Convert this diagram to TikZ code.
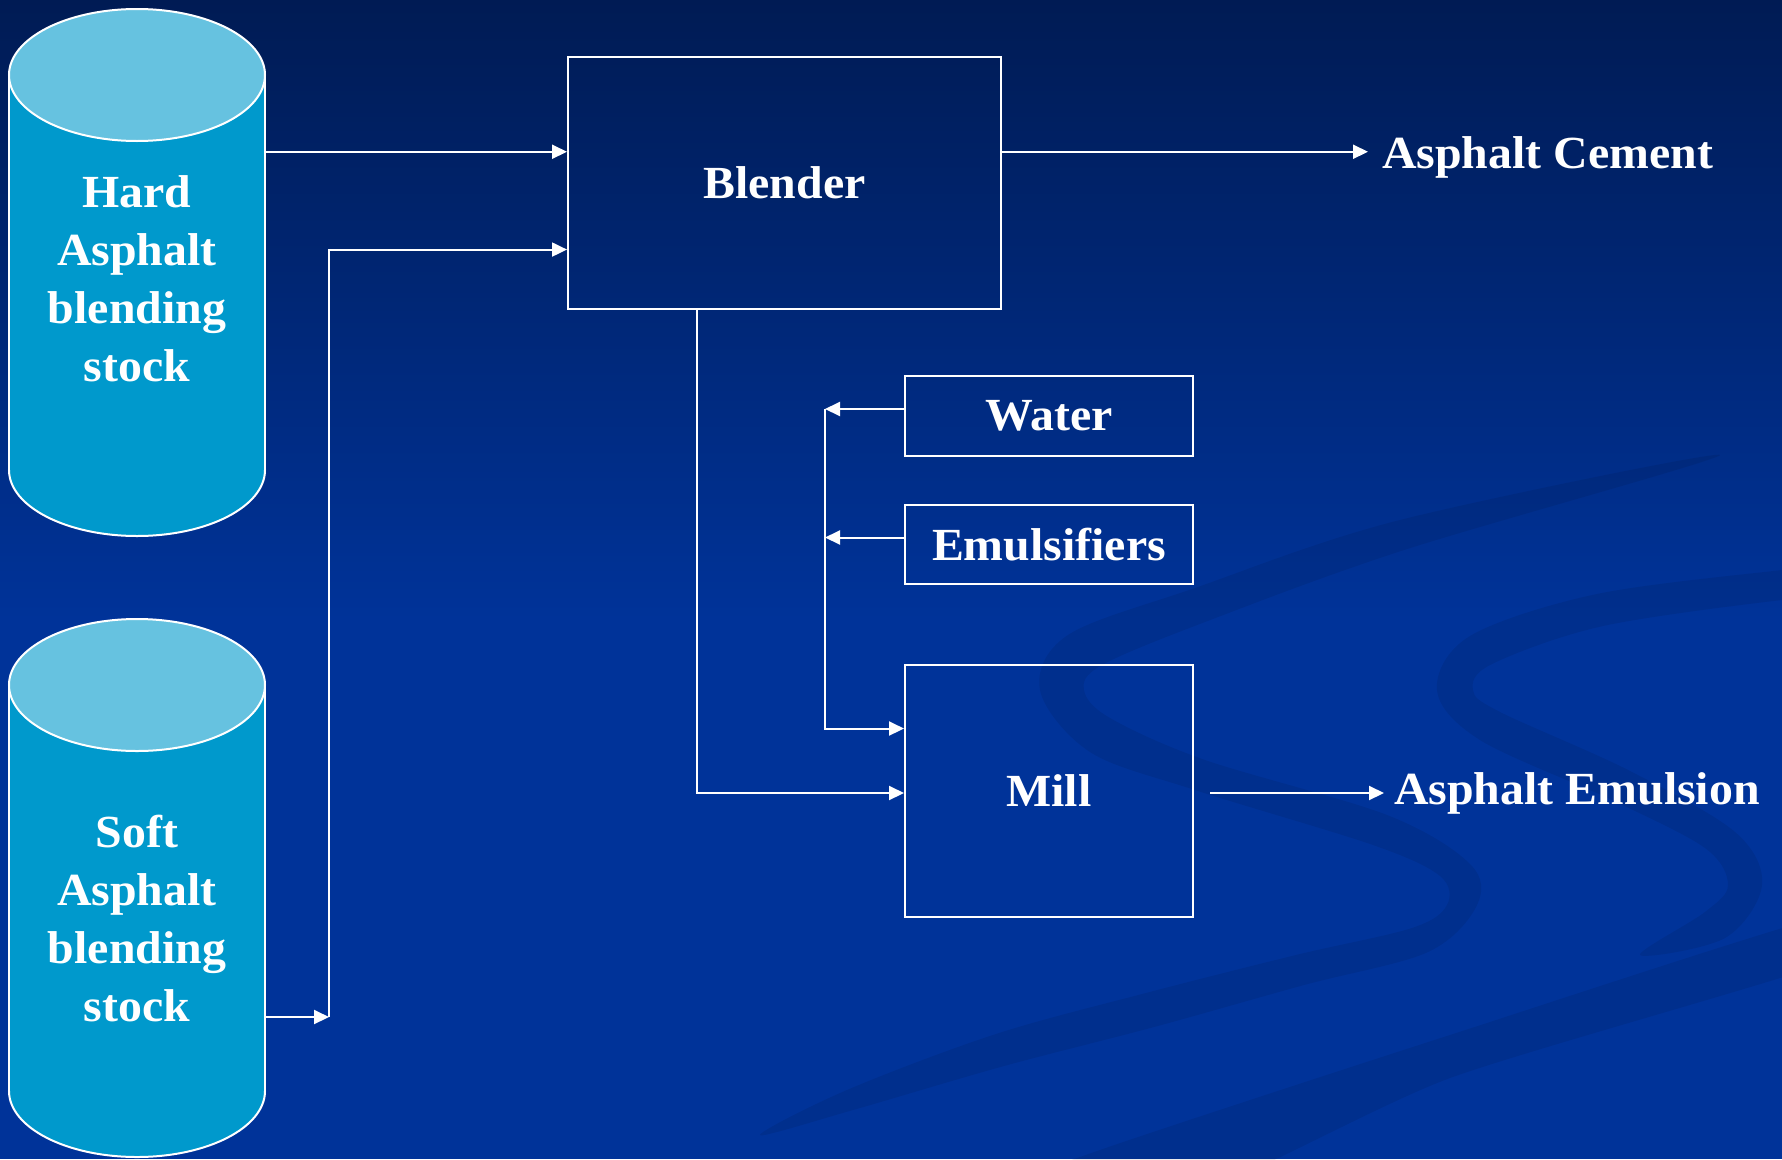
\documentclass[tikz,border=0pt]{standalone}
\usepackage{fontspec}
\setmainfont[FakeStretch=1.04]{Liberation Serif}
\usetikzlibrary{arrows.meta,calc}
\definecolor{bgtop}{RGB}{0,27,84}
\definecolor{bgmid}{RGB}{0,51,153}
\definecolor{cylbody}{RGB}{0,153,204}
\definecolor{cyltop}{RGB}{102,194,224}
\begin{document}
\begin{tikzpicture}[x=1pt,y=-1pt,
  lbl/.style={font=\fontsize{46}{58}\selectfont\bfseries, text=white},
  procbox/.style={draw=white, line width=2pt, inner sep=0pt, lbl},
  flow/.style={draw=white, line width=2pt, -{Triangle[length=15pt,width=14pt]}},
  swoosh/.style={fill=black, fill opacity=0.075},
]
% background
\fill[bgmid] (0,0) rectangle (1782,1159);
\shade[top color=bgtop, bottom color=bgmid] (0,0) rectangle (1782,620);
\useasboundingbox (0,0) rectangle (1782,1159);

% decorative swooshes (background)
\fill[swoosh] plot[smooth cycle, tension=0.55] coordinates {
  (1720,455) (1400,520) (1195,588) (1068,635) (1040,690) (1090,752) (1195,790)
  (1373,845) (1440,876) (1447,905) (1412,928) (1296,955) (1146,993) (996,1034)
  (847,1090) (760,1135)
  (853,1110) (1004,1066) (1154,1027) (1304,985) (1428,952) (1477,905) (1470,864)
  (1387,815) (1205,760) (1110,718) (1084,690) (1102,665) (1205,622) (1404,550)};
\fill[swoosh] plot[smooth cycle, tension=0.55] coordinates {
  (1830,566) (1782,570) (1597,594) (1470,636) (1437,690) (1480,740) (1612,800)
  (1705,848) (1728,885) (1705,912) (1640,955)
  (1725,938) (1762,885) (1735,832) (1628,770) (1500,712) (1473,690) (1492,664)
  (1603,626) (1782,600) (1830,600)};
\fill[swoosh] plot[smooth cycle, tension=0.4] coordinates {
  (1840,912) (1450,1035) (1100,1150) (980,1200) (1180,1200) (1450,1078) (1840,958)};

% cylinders
\foreach \cx/\ty/\by in {137/75/470, 137/685/1091}{
  \filldraw[fill=cylbody, draw=white, line width=2pt] (\cx,\by) ellipse [x radius=128, y radius=66];
  \fill[cylbody] (\cx-128,\ty) rectangle (\cx+128,\by);
  \draw[white, line width=2pt] (\cx-128,\ty) -- (\cx-128,\by) (\cx+128,\ty) -- (\cx+128,\by);
  \filldraw[fill=cyltop, draw=white, line width=2pt] (\cx,\ty) ellipse [x radius=128, y radius=66];
}
\node[lbl, align=center, inner sep=0pt, minimum width=256pt] (hard) at (137,278.5) {Hard\\Asphalt\\blending\\stock};
\node[lbl, align=center, inner sep=0pt, minimum width=256pt] (soft) at (137,918.5) {Soft\\Asphalt\\blending\\stock};

% process boxes
\node[procbox, minimum width=433pt, minimum height=252pt] (blender) at (784.5,183) {Blender};
\node[procbox, minimum width=288pt, minimum height=80pt] (water) at (1049,416) {Water};
\node[procbox, minimum width=288pt, minimum height=79pt] (emuls) at (1049,544.5) {Emulsifiers};
\node[procbox, minimum width=288pt, minimum height=252pt] (mill) at (1049,791) {Mill};

% outputs
\node[lbl, anchor=base west, inner sep=0pt] (cement) at (1382,168) {Asphalt Cement};
\node[lbl, anchor=base west, inner sep=0pt] (emulsion) at (1394,804) {Asphalt Emulsion};

% helper coordinates
\coordinate (b1) at ($(blender.north west)!0.377!(blender.south west)$);
\coordinate (b2) at ($(blender.north west)!0.762!(blender.south west)$);
\coordinate (j1) at (329,1017);
\coordinate (bd) at ($(blender.south west)!0.298!(blender.south east)$);
\coordinate (wa) at ($(water.west)+(0,-7)$);
\coordinate (ea) at ($(emuls.west)+(0,-7)$);
\coordinate (vx) at (825,0);
\coordinate (ma) at ($(mill.north west)!0.254!(mill.south west)$);
\coordinate (mb) at ($(mill.west)+(0,2)$);
\coordinate (m0) at ($(mill.east)+(16,2)$);

% connectors
\draw[flow] (hard.east |- b1) -- (b1);
\draw[flow] (soft.east |- j1) -- (j1);
\draw[flow] (j1) |- (b2);
\draw[flow] (b1 -| blender.east) -- ($(cement.west |- b1)+(-14,0)$);
\draw[flow] (bd) |- (mb);
\draw[flow] (wa) -- (wa -| vx);
\draw[flow] (ea) -- (ea -| vx);
\draw[flow] (wa -| vx) |- (ma);
\draw[flow] (m0) -- ($(emulsion.west |- m0)+(-10,0)$);
\end{tikzpicture}
\end{document}
